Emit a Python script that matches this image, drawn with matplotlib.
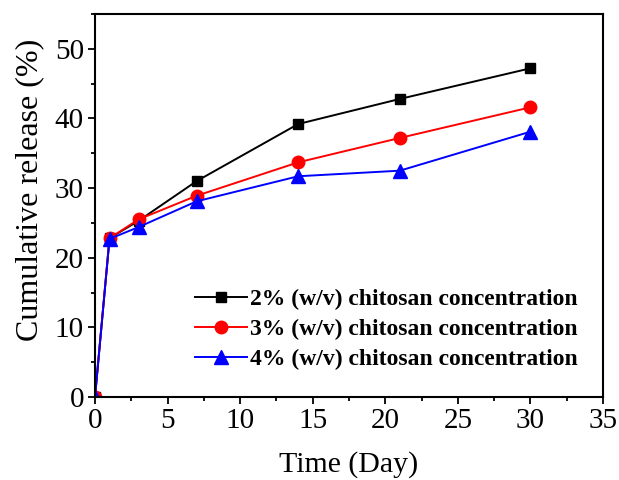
import matplotlib
matplotlib.use("Agg")
import matplotlib.pyplot as plt

plt.rcParams['font.family'] = ['Liberation Serif', 'DejaVu Serif']

days = [0, 1, 3, 7, 14, 21, 30]
release_2pct = [0, 22.8, 25.3, 31.0, 39.2, 42.8, 47.2]
release_3pct = [0, 22.8, 25.5, 28.9, 33.7, 37.2, 41.6]
release_4pct = [0, 22.7, 24.4, 28.1, 31.7, 32.5, 38.1]
labels = ["2% (w/v) chitosan concentration",
          "3% (w/v) chitosan concentration",
          "4% (w/v) chitosan concentration"]

fig = plt.figure(figsize=(6.19, 4.8), dpi=100)
ax = fig.add_axes([95/619, 1 - 397/480, (603-95)/619, (397-14)/480])

ax.plot(days, release_2pct, color='black', marker='s', markersize=7.5, lw=1.4, label=labels[0])
ax.plot(days, release_3pct, color='red', marker='o', markersize=9, lw=1.4, label=labels[1])
ax.plot(days, release_4pct, color='blue', marker='^', markersize=9.5, lw=1.4, label=labels[2])

ax.set_xlim(0, 35)
ax.set_ylim(0, 55)
ax.set_xticks(range(0, 36, 5))
ax.set_xticks([x + 2.5 for x in range(0, 35, 5)], minor=True)
ax.set_yticks(range(0, 51, 10))
ax.set_yticks(range(5, 56, 10), minor=True)
ax.tick_params(which='major', direction='out', length=5, width=1.3, labelsize=21, pad=3)
ax.tick_params(which='minor', direction='out', length=3, width=1.3)
for s in ax.spines.values():
    s.set_linewidth(1.5)

ax.set_xlabel("Time (Day)", fontsize=21.5, labelpad=12)
ax.set_ylabel("Cumulative release (%)", fontsize=23, labelpad=1)
ax.yaxis.set_label_coords(-0.10, 0.54)

ax.legend(loc='upper left', bbox_to_anchor=(0.178, 0.307), frameon=False,
          prop={'weight': 'bold', 'size': 17}, handlelength=2.2,
          handletextpad=0.15, labelspacing=0.35, borderaxespad=0)

fig.savefig("out.png", dpi=100)
